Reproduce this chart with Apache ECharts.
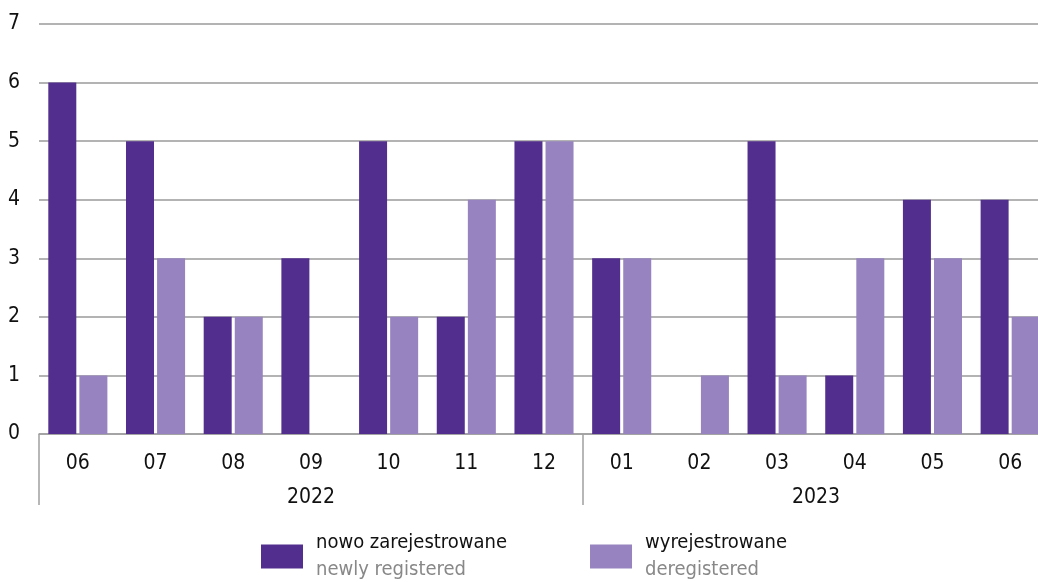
<!DOCTYPE html>
<html><head><meta charset="utf-8">
<script src="https://cdn.jsdelivr.net/npm/echarts@6/dist/echarts.min.js"></script>
<style>html,body{margin:0;padding:0;background:#fff}#c{width:1038px;height:582px}</style>
</head><body><div id="c"></div>
<script>
const months = ['06','07','08','09','10','11','12','01','02','03','04','05','06'];
const years = ['2022','2023'];
const yearSpans = [7, 6];
const newlyRegistered = [6,5,2,3,5,2,5,3,0,5,1,4,4];
const deregistered = [1,3,2,0,2,4,5,3,1,1,3,3,2];
const seriesNamesPL = ['nowo zarejestrowane','wyrejestrowane'];
const seriesNamesEN = ['newly registered','deregistered'];
const yTicks = [0,1,2,3,4,5,6,7];

const FONT = "'Liberation Sans Narrow','DejaVu Sans Condensed',sans-serif";
const yearBounds = [0]; yearSpans.forEach(s => yearBounds.push(yearBounds[yearBounds.length-1] + s));
const yearCenters = yearSpans.map((s,i) => yearBounds[i] + s/2);
const total = months.length;

const chart = echarts.init(document.getElementById('c'));
chart.setOption({
  animation: false,
  textStyle: {fontFamily: FONT},
  grid: {left: 39, width: 1010, top: 24, bottom: 148, containLabel: false, outerBoundsMode: 'none'},
  legend: {
    left: 261, top: 533, padding: 0, itemWidth: 42, itemHeight: 24, itemGap: 83,
    icon: 'rect',
    data: seriesNamesPL,
    formatter: name => {
      const i = seriesNamesPL.indexOf(name);
      return '{a|' + name + '}\n{b|' + seriesNamesEN[i] + '}';
    },
    textStyle: {
      fontFamily: FONT, padding: [0,0,0,8],
      rich: {
        a: {fontFamily: FONT, fontSize: 20, color: '#111', lineHeight: 27},
        b: {fontFamily: FONT, fontSize: 20, color: '#888', lineHeight: 27}
      }
    }
  },
  xAxis: [
    {
      type: 'category', data: months, position: 'bottom',
      axisLine: {show: true, lineStyle: {color: '#a0a0a0', width: 1.5}},
      axisTick: {show: false},
      axisLabel: {fontFamily: FONT, fontSize: 21, color: '#111', margin: 19, interval: 0}
    },
    {
      type: 'value', min: 0, max: total, position: 'bottom', gridIndex: 0,
      axisLine: {show: false},
      splitLine: {show: false},
      axisTick: {show: true, customValues: yearBounds.slice(0, -1), length: 71, lineStyle: {color: '#a0a0a0', width: 1.5}},
      axisLabel: {
        show: true, customValues: yearCenters, margin: 53,
        fontFamily: FONT, fontSize: 21, color: '#111',
        formatter: v => years[yearCenters.indexOf(v)]
      }
    }
  ],
  yAxis: {
    type: 'value', min: yTicks[0], max: yTicks[yTicks.length-1], interval: 1,
    axisLine: {show: false}, axisTick: {show: false},
    axisLabel: {fontFamily: FONT, fontSize: 21, color: '#111', margin: 19},
    splitLine: {lineStyle: {color: '#9a9a9a', width: 1.5}}
  },
  series: [
    {name: seriesNamesPL[0], type: 'bar', data: newlyRegistered, barWidth: 28, barGap: '11%',
     itemStyle: {color: '#522e8e'}},
    {name: seriesNamesPL[1], type: 'bar', data: deregistered, barWidth: 28, barGap: '11%',
     itemStyle: {color: '#9683bf'}}
  ]
});
</script></body></html>
